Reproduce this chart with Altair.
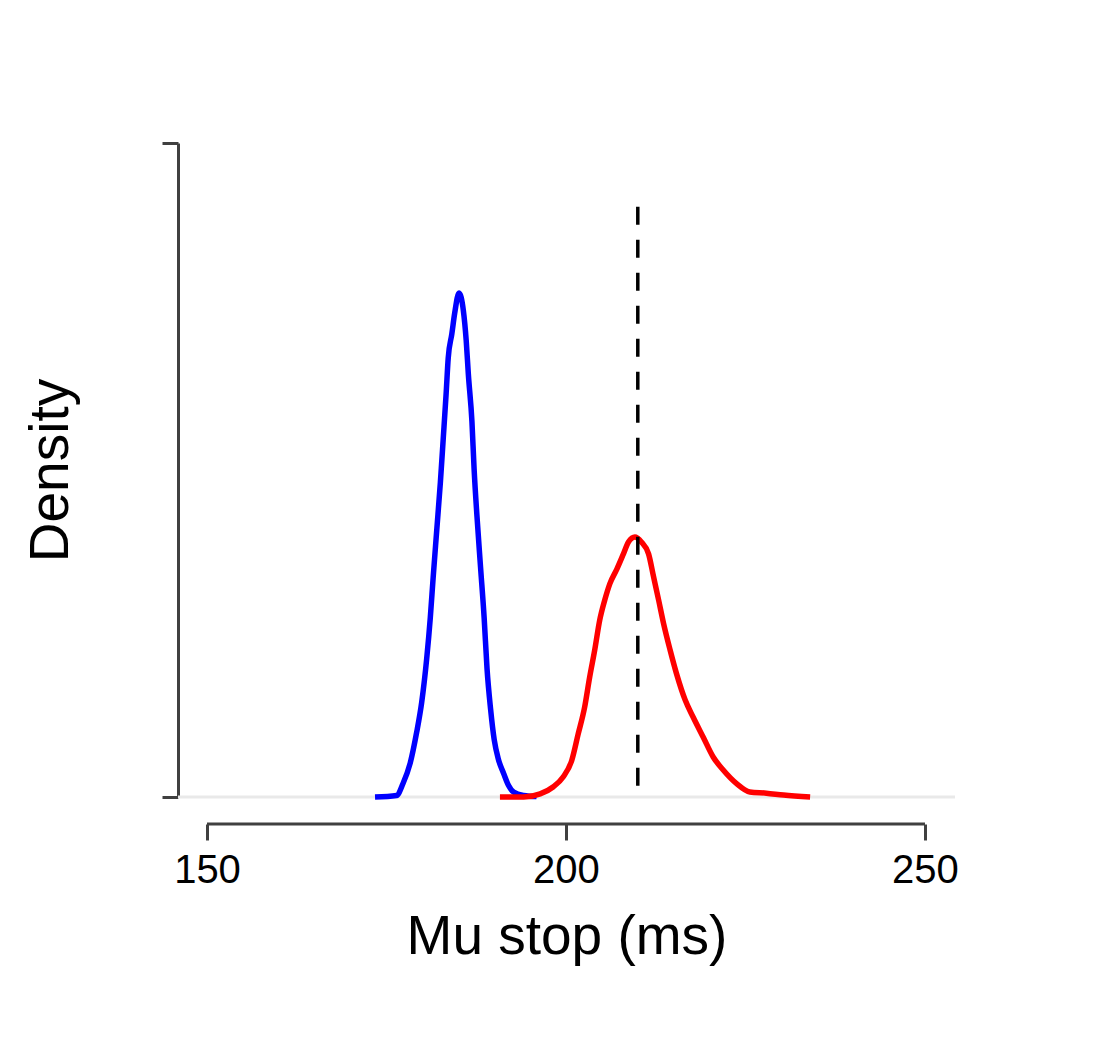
import altair as alt
import pandas as pd

# ---- data ----
blue_x = [173.4, 176.4, 177.3, 178.3, 179.2, 179.9, 180.6, 181.1, 181.5, 182.0,
          182.5, 182.9, 183.3, 183.6, 184.1, 184.5, 185.1, 185.7, 186.1, 186.4,
          186.9, 187.2, 187.6, 188.1, 188.6, 189.0, 189.5, 190.0, 190.6, 191.3,
          192.0, 192.7, 194.1, 195.9]
blue_y = [0.0, 0.0004, 0.0035, 0.0088, 0.0168, 0.0246, 0.0360, 0.0466, 0.0571, 0.0694,
          0.0817, 0.0931, 0.1047, 0.1142, 0.1204, 0.1258, 0.1310, 0.1265, 0.1187, 0.1099,
          0.0976, 0.0853, 0.0730, 0.0597, 0.0466, 0.0334, 0.0228, 0.0149, 0.0097, 0.0062,
          0.0030, 0.0013, 0.0004, 0.0001]

red_x = [190.8, 194.1, 196.4, 198.2, 199.6, 200.8, 201.7, 202.6, 203.3, 204.0,
         204.7, 205.4, 206.1, 207.1, 208.0, 208.7, 209.6, 210.5, 211.5, 212.2,
         212.9, 213.6, 214.5, 215.4, 216.6, 217.7, 219.1, 220.5, 221.9, 223.8,
         225.6, 227.9, 230.3, 234.0]
red_y = [0.0, 0.0, 0.0008, 0.0026, 0.0052, 0.0095, 0.0164, 0.0234, 0.0312, 0.0382,
         0.0460, 0.0512, 0.0554, 0.0593, 0.0632, 0.0663, 0.0676, 0.0663, 0.0632, 0.0572,
         0.0512, 0.0450, 0.0382, 0.0320, 0.0252, 0.0208, 0.0156, 0.0104, 0.0070, 0.0034,
         0.0013, 0.0010, 0.0005, 0.0]

ref_x = [210.0]
ref_top = [0.1534]
x_ticks = [150, 200, 250]
x_span = [150, 250]
x_domain = [145.96, 254.18]
y_top = 0.17

FONT = "Liberation Sans"
DARK = "#404040"

blue = pd.DataFrame({"mu": blue_x, "density": blue_y})
red = pd.DataFrame({"mu": red_x, "density": red_y})
ref = pd.DataFrame({"mu": ref_x, "top": ref_top, "bottom": [0.0]})
base = pd.DataFrame({"mu": [x_domain[0]], "mu2": [x_domain[1]], "density": [0.0]})
span = pd.DataFrame({"mu": [x_span[0]], "mu2": [x_span[1]]})

xscale = alt.Scale(domain=x_domain, nice=False, zero=False)
yscale = alt.Scale(domain=[0, y_top], nice=False, zero=True)

x_axis = alt.Axis(
    values=x_ticks, title="Mu stop (ms)", domain=False, grid=False,
    offset=27, tickSize=16, tickWidth=3, tickColor=DARK,
    labelFont=FONT, labelFontSize=40, labelColor="black", labelPadding=10,
    labelFlush=False,
    titleFont=FONT, titleFontSize=55, titleFontWeight="normal", titleColor="black",
    titleBaseline="alphabetic", titleY=129,
)
y_axis = alt.Axis(
    values=[0, y_top], labels=False, title="Density", grid=False,
    domain=True, domainWidth=3, domainColor=DARK,
    tickSize=16, tickWidth=3, tickColor=DARK,
    titleFont=FONT, titleFontSize=55, titleFontWeight="normal", titleColor="black",
    titleAngle=-90, titleAlign="center", titleBaseline="middle",
    titleX=-128, titleY=327,
)

X = alt.X("mu:Q", scale=xscale, axis=x_axis)
Y = alt.Y("density:Q", scale=yscale, axis=y_axis)

baseline = alt.Chart(base).mark_rule(color="#e9e9e9", strokeWidth=3).encode(
    x=X, x2="mu2:Q", y=Y
)

blue_line = alt.Chart(blue).mark_line(color="#0000ff", strokeWidth=5.5, interpolate="monotone").encode(
    x=X, y=Y
)
red_line = alt.Chart(red).mark_line(color="#ff0000", strokeWidth=5.5, interpolate="monotone").encode(
    x=X, y=Y
)

ref_line = alt.Chart(ref).mark_rule(color="black", strokeWidth=3.5, strokeDash=[18, 15]).encode(
    x=X, y=alt.Y("top:Q", scale=yscale, axis=y_axis), y2="bottom:Q"
)

x_domain_line = alt.Chart(span).mark_rule(color=DARK, strokeWidth=3).encode(
    x=X, x2="mu2:Q", y=alt.value(681)
)

chart = alt.layer(baseline, blue_line, red_line, ref_line, x_domain_line).properties(
    width=777, height=654,
    autosize=alt.AutoSizeParams(type="none"),
    padding={"left": 178, "top": 143, "right": 161, "bottom": 246},
    background="white",
).configure_view(stroke=None)

chart.save("out.html", embed_options={"renderer": "svg", "actions": False})
